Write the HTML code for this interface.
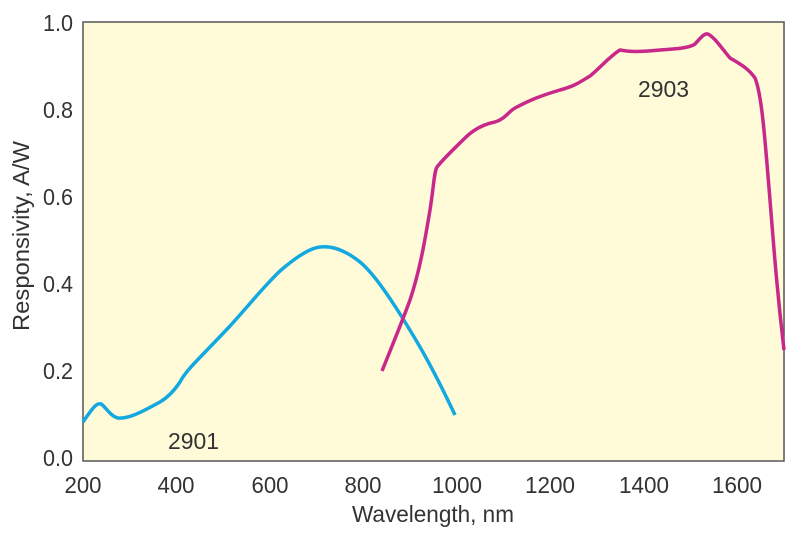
<!DOCTYPE html>
<html><head><style>body{margin:0;background:#fff}svg{display:block}text{font-family:"Liberation Sans Narrow","Liberation Sans",sans-serif;fill:#333}</style></head>
<body><svg width="800" height="538" viewBox="0 0 800 538">
<rect x="83" y="22" width="701" height="439" fill="#fffad8" stroke="#555" stroke-width="1.5"/>
<g font-size="23" text-anchor="end">
<text x="73" y="31" textLength="30" lengthAdjust="spacingAndGlyphs">1.0</text><text x="73" y="118" textLength="30" lengthAdjust="spacingAndGlyphs">0.8</text><text x="73" y="205" textLength="30" lengthAdjust="spacingAndGlyphs">0.6</text><text x="73" y="292" textLength="30" lengthAdjust="spacingAndGlyphs">0.4</text><text x="73" y="379" textLength="30" lengthAdjust="spacingAndGlyphs">0.2</text><text x="73" y="466" textLength="30" lengthAdjust="spacingAndGlyphs">0.0</text></g>
<g font-size="23" text-anchor="middle">
<text x="83" y="493" textLength="37" lengthAdjust="spacingAndGlyphs">200</text><text x="176" y="493" textLength="37" lengthAdjust="spacingAndGlyphs">400</text><text x="270" y="493" textLength="37" lengthAdjust="spacingAndGlyphs">600</text><text x="363" y="493" textLength="37" lengthAdjust="spacingAndGlyphs">800</text><text x="457" y="493" textLength="50" lengthAdjust="spacingAndGlyphs">1000</text><text x="550" y="493" textLength="50" lengthAdjust="spacingAndGlyphs">1200</text><text x="644" y="493" textLength="50" lengthAdjust="spacingAndGlyphs">1400</text><text x="737" y="493" textLength="50" lengthAdjust="spacingAndGlyphs">1600</text>
<text x="433" y="522" textLength="162" lengthAdjust="spacingAndGlyphs">Wavelength, nm</text>
<text transform="translate(29,236) rotate(-90)" textLength="190" lengthAdjust="spacingAndGlyphs">Responsivity, A/W</text></g>
<text x="168" y="449" font-size="23" textLength="51" lengthAdjust="spacingAndGlyphs">2901</text>
<text x="638" y="97" font-size="23" textLength="51" lengthAdjust="spacingAndGlyphs">2903</text>
<path fill="none" stroke="#12a8e0" stroke-width="3.5" stroke-linejoin="round" d="M83,422 C90,412 96,402 101,404 C105,406 110,416 118,418 C128,419 140,413 160,402 C170,396 176,388 180,382 C186,370 200,358 230,326 C250,304 265,285 280,271 C295,258 310,248 320,247 C335,245 350,254 360,262 C372,272 385,290 400,314 C415,338 430,362 455,415"/>
<path fill="none" stroke="#c8288a" stroke-width="3.5" stroke-linejoin="round" d="M382,371 C392,346 402,322 410,300 C420,270 425,240 430,210 C434,185 434,172 437,167 C445,157 455,148 465,138 C475,128 485,124 495,122 C505,119 508,112 515,108 C530,100 540,96 560,90 C575,86 580,82 590,76 C600,68 610,56 620,50 C630,52 640,52 660,50 C675,49 690,48 695,44 C702,36 705,33 708,34 C715,38 720,46 730,58 C740,64 748,68 755,78 C762,95 765,140 770,200 C774,250 777,290 784,350"/>
</svg></body></html>
